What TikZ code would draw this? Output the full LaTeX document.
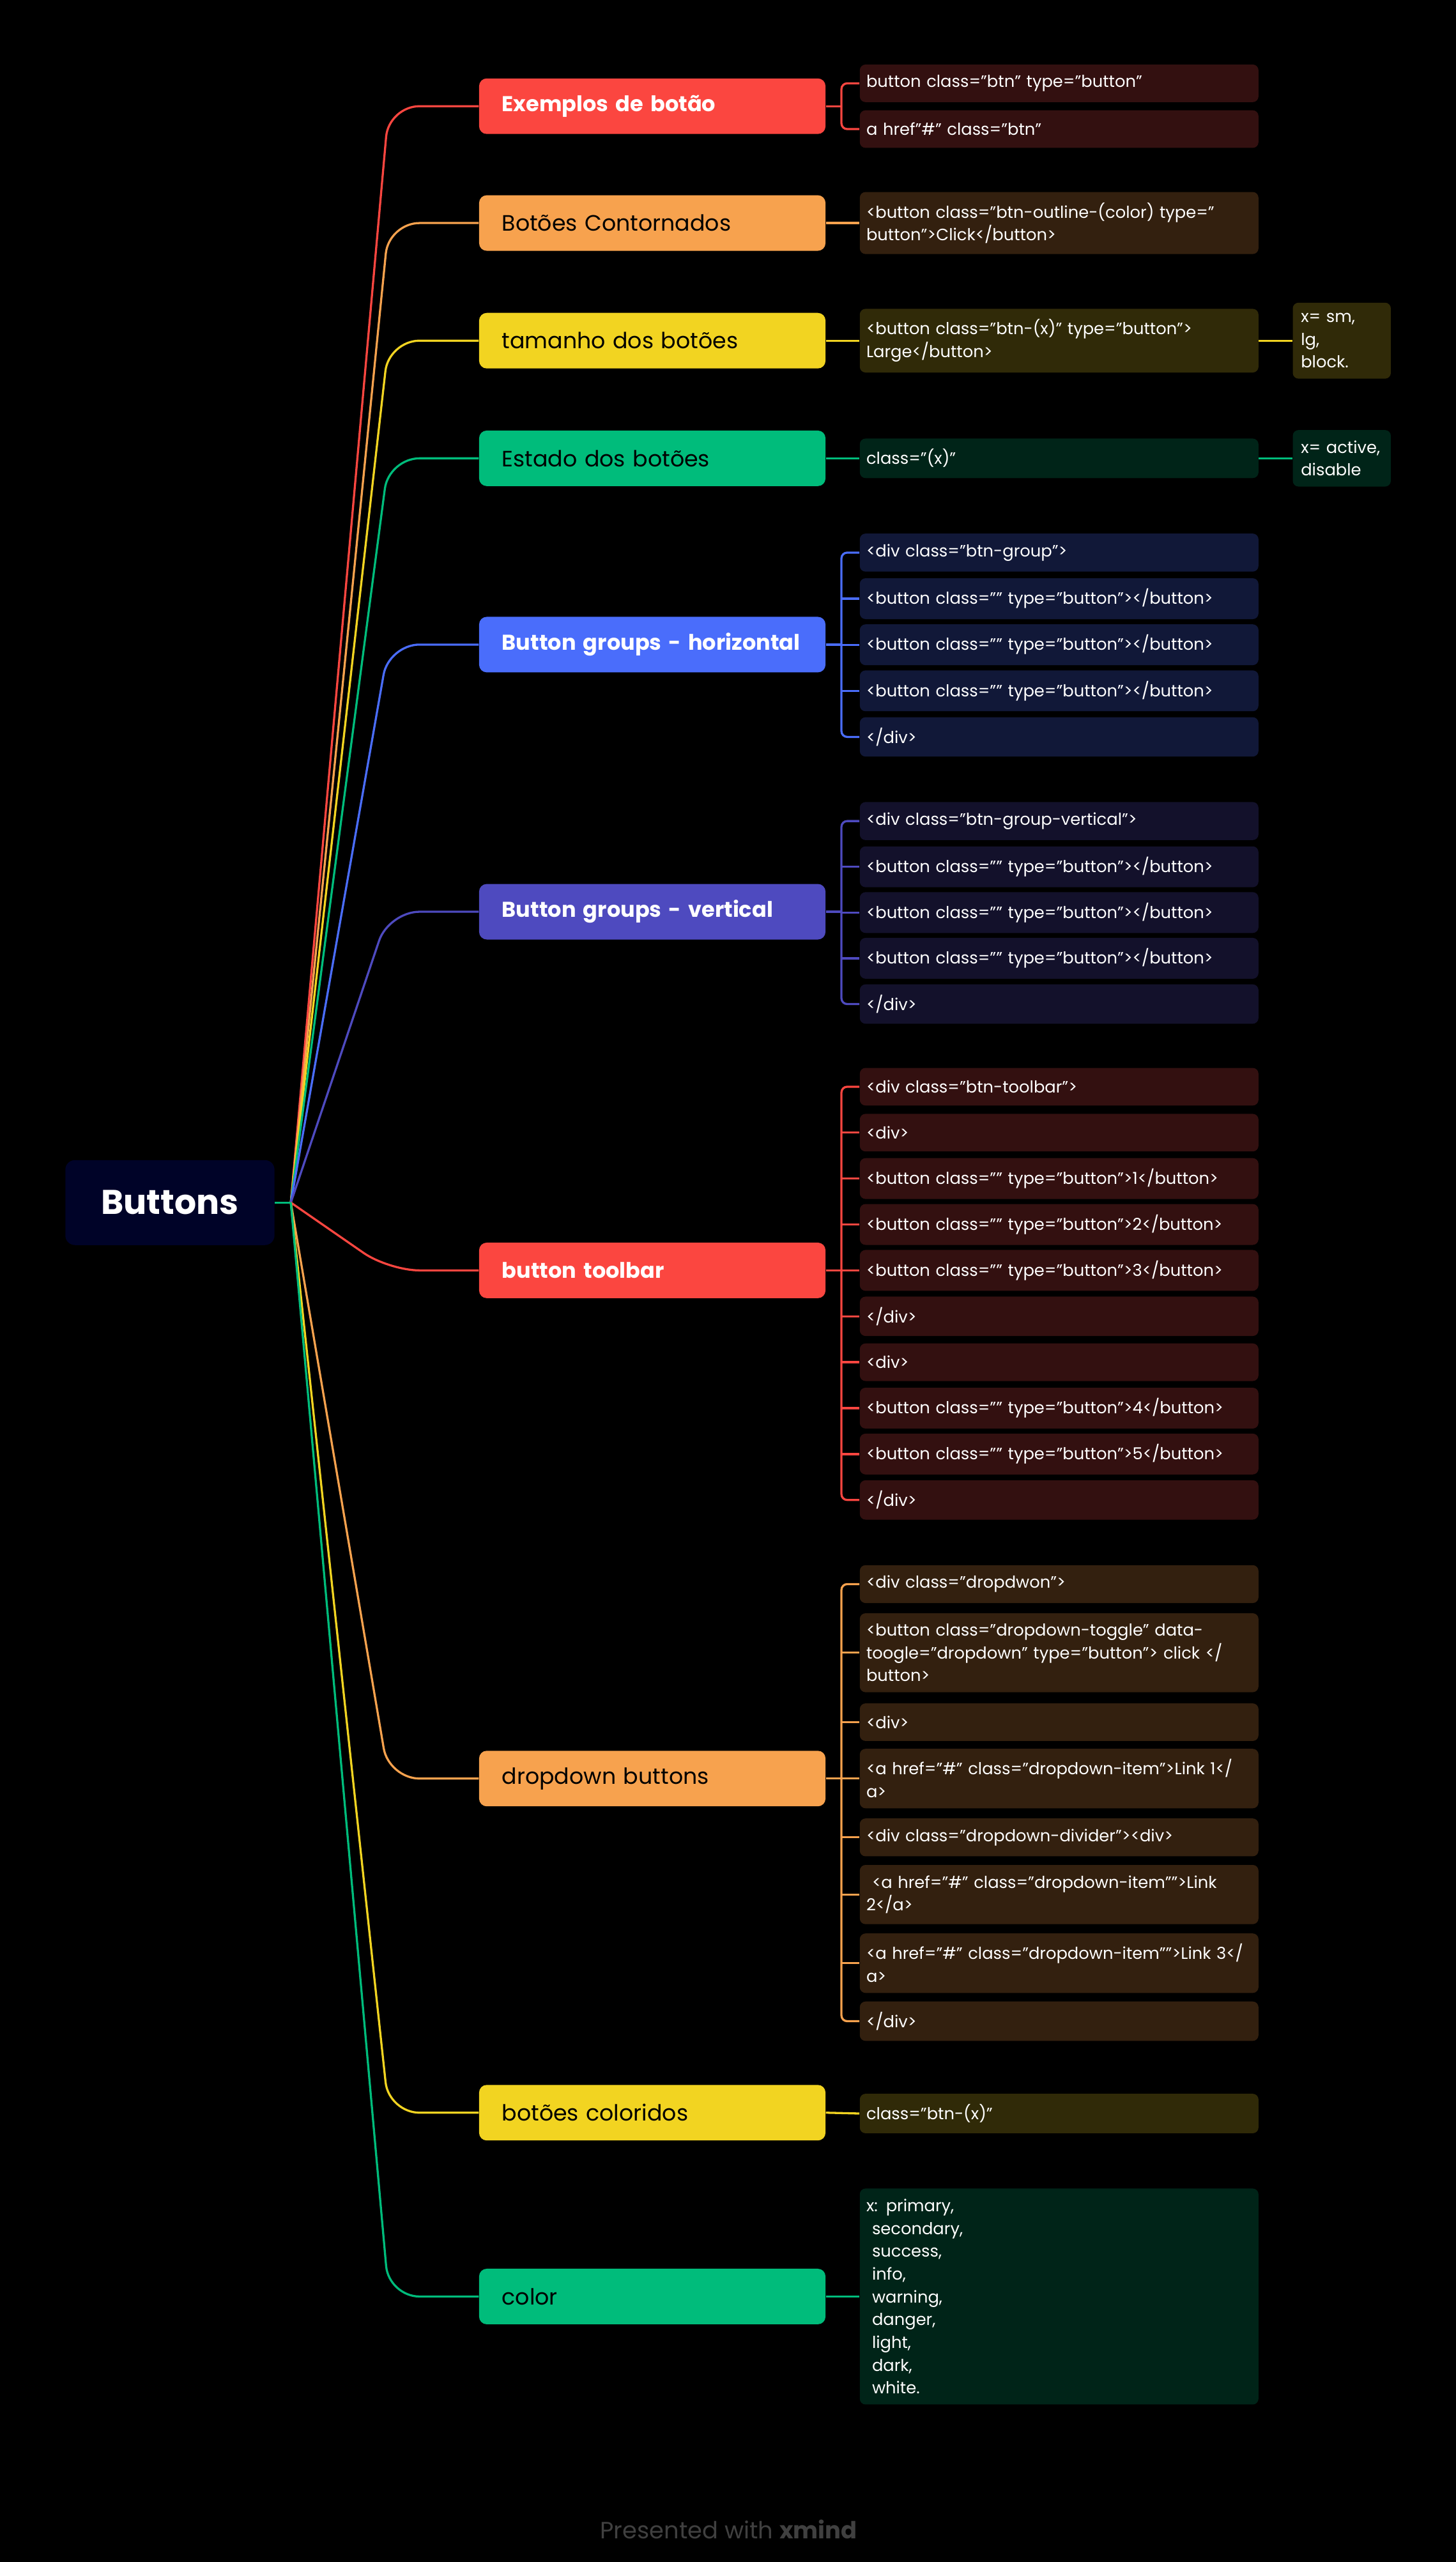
\documentclass[tikz,border=0pt]{standalone}
\usepackage{fontspec}
\setmainfont{Poppins}
\usetikzlibrary{positioning}

\definecolor{rootfill}{HTML}{000328}
\definecolor{bRed}{HTML}{FB4640}
\definecolor{bOrange}{HTML}{F7A24E}
\definecolor{bYellow}{HTML}{F2D421}
\definecolor{bGreen}{HTML}{00BC7B}
\definecolor{bBlue}{HTML}{4A6DFB}
\definecolor{bIndigo}{HTML}{4E4ABF}
\definecolor{dRed}{HTML}{331010}
\definecolor{dOrange}{HTML}{33200F}
\definecolor{dYellow}{HTML}{302A08}
\definecolor{dGreen}{HTML}{002418}
\definecolor{dBlue}{HTML}{111838}
\definecolor{dIndigo}{HTML}{13112B}
\definecolor{credit}{HTML}{404040}

\newcommand{\topicfont}{\fontsize{11.6}{14}\selectfont\hyphenpenalty=10000 }
\newcommand{\codefont}{\fontsize{8.6}{11.9}\selectfont}

\tikzset{
  topic/.style={fill=#1, rounded corners=4pt, anchor=west, minimum height=1.02cm,
    text width=5.52cm, inner xsep=0.42cm, align=left, font=\topicfont},
  lighttopic/.style={topic=#1, text=white, font=\topicfont\fontsize{11.2}{14}\selectfont\bfseries},
  code/.style={fill=#1, text=white, rounded corners=3pt, anchor=west, minimum height=0.69cm,
    text width=7.08cm, inner xsep=0.12cm, inner ysep=5.5pt, align=left, font=\codefont},
  note/.style={code=#1, text width=1.5cm, inner xsep=0.15cm},
  link/.style={draw=#1, line width=1.1pt},
}

\begin{document}
\begin{tikzpicture}[x=0.03cm, y=-0.03cm]

\fill (0,0) rectangle (891,1568);

\node[fill=rootfill, text=white, rounded corners=5pt, minimum width=3.84cm, minimum height=1.56cm,
  font=\fontsize{17.9}{20}\selectfont\bfseries] (root) at (104,736) {Buttons};
\coordinate (J) at (178,736);
\coordinate (bend) at (238,0);
\coordinate (trunk) at (515,0);

% main topics
\node[lighttopic=bRed] (ex) at (293,65) {Exemplos de botão};
\node[topic=bOrange] (co) at (293,136.5) {Botões Contornados};
\node[topic=bYellow] (ta) at (293,208.5) {tamanho dos botões};
\node[topic=bGreen] (es) at (293,280.5) {Estado dos botões};
\node[lighttopic=bBlue] (gh) at (293,394.5) {Button~groups~-~horizontal};
\node[lighttopic=bIndigo] (gv) at (293,558) {Button groups - vertical};
\node[lighttopic=bRed] (tb) at (293,777.5) {button toolbar};
\node[topic=bOrange] (dd) at (293,1088.5) {dropdown buttons};
\node[topic=bYellow] (bc) at (293,1293) {botões coloridos};
\node[topic=bGreen] (cl) at (293,1405.5) {color};

\foreach \m/\c in {ex/bRed, co/bOrange, ta/bYellow, es/bGreen, gh/bBlue, gv/bIndigo,
                   tb/bRed, dd/bOrange, bc/bYellow, cl/bGreen}
  \draw[link=\c, rounded corners=16pt] (J) -- (bend |- \m.west) -- (\m.west);
\draw[link=bGreen] (root.east) -- (J);

% Exemplos de botao
\node[code=dRed] (ex1) at (526,51) {button class="btn" type="button"};
\node[code=dRed] (ex2) at (526,79) {a href"\#" class="btn"};
\draw[link=bRed] (ex.east) -- (trunk |- ex.east);
\draw[link=bRed, rounded corners=3pt] (ex1.west) -- (trunk |- ex1.west) -- (trunk |- ex2.west) -- (ex2.west);

% Botoes Contornados
\node[code=dOrange] (co1) at (526,136.5) {<button class="btn-outline-(color) type="\\button">Click</button>};
\draw[link=bOrange] (co.east) -- (co1.west);

% tamanho
\node[code=dYellow] (ta1) at (526,208.5) {<button class="btn-(x)" type="button">\\Large</button>};
\node[note=dYellow] (ta2) at (791,208.5) {x=~sm,\\lg,\\block.};
\draw[link=bYellow] (ta.east) -- (ta1.west);
\draw[link=bYellow] (ta1.east) -- (ta2.west);

% estado
\node[code=dGreen] (es1) at (526,280.5) {class="(x)"};
\node[note=dGreen] (es2) at (791,280.5) {x=~active,\\disable};
\draw[link=bGreen] (es.east) -- (es1.west);
\draw[link=bGreen] (es1.east) -- (es2.west);

% button groups - horizontal
\foreach \t [count=\i] in {{<div class="btn-group">}, {<button class="" type="button"></button>},
    {<button class="" type="button"></button>}, {<button class="" type="button"></button>}, {</div>}}
  \node[code=dBlue] (gh\i) at (526, 310+28.2*\i) {\t};
\draw[link=bBlue] (gh.east) -- (trunk |- gh.east);
\draw[link=bBlue, rounded corners=3pt] (gh1.west) -- (trunk |- gh1.west) -- (trunk |- gh5.west) -- (gh5.west);
\foreach \i in {2,3,4}
  \draw[link=bBlue] (trunk |- gh\i.west) -- (gh\i.west);

% button groups - vertical
\foreach \t [count=\i] in {{<div class="btn-group-vertical">}, {<button class="" type="button"></button>},
    {<button class="" type="button"></button>}, {<button class="" type="button"></button>}, {</div>}}
  \node[code=dIndigo] (gv\i) at (526, 474.5+28*\i) {\t};
\draw[link=bIndigo] (gv.east) -- (trunk |- gv.east);
\draw[link=bIndigo, rounded corners=3pt] (gv1.west) -- (trunk |- gv1.west) -- (trunk |- gv5.west) -- (gv5.west);
\foreach \i in {2,3,4}
  \draw[link=bIndigo] (trunk |- gv\i.west) -- (gv\i.west);

% button toolbar
\foreach \t [count=\i] in {{<div class="btn-toolbar">}, {<div>},
    {<button class="" type="button">1</button>}, {<button class="" type="button">2</button>},
    {<button class="" type="button">3</button>}, {</div>}, {<div>},
    {<button class="" type="button">4</button>}, {<button class="" type="button">5</button>}, {</div>}}
  \node[code=dRed] (tb\i) at (526, 637+28.1*\i) {\t};
\draw[link=bRed] (tb.east) -- (trunk |- tb.east);
\draw[link=bRed, rounded corners=3pt] (tb1.west) -- (trunk |- tb1.west) -- (trunk |- tb10.west) -- (tb10.west);
\foreach \i in {2,...,9}
  \draw[link=bRed] (trunk |- tb\i.west) -- (tb\i.west);

% dropdown
\node[code=dOrange] (dd1) at (526,969.5) {<div class="dropdwon">};
\node[code=dOrange] (dd2) at (526,1011.5) {<button class="dropdown-toggle" data-\\toogle="dropdown" type="button">~click~</\\button>};
\node[code=dOrange] (dd3) at (526,1054) {<div>};
\node[code=dOrange] (dd4) at (526,1088.5) {<a href="\#" class="dropdown-item">Link~1</\\a>};
\node[code=dOrange] (dd5) at (526,1124.5) {<div class="dropdown-divider"><div>};
\node[code=dOrange] (dd6) at (526,1159.5) {\hspace*{3pt}<a href="\#" class="dropdown-item"">Link\\2</a>};
\node[code=dOrange] (dd7) at (526,1201.5) {<a href="\#" class="dropdown-item"">Link~3</\\a>};
\node[code=dOrange] (dd8) at (526,1237) {</div>};
\draw[link=bOrange] (dd.east) -- (trunk |- dd.east);
\draw[link=bOrange, rounded corners=3pt] (dd1.west) -- (trunk |- dd1.west) -- (trunk |- dd8.west) -- (dd8.west);
\foreach \i in {2,...,7}
  \draw[link=bOrange] (trunk |- dd\i.west) -- (dd\i.west);

% botoes coloridos
\node[code=dYellow] (bc1) at (526,1293.5) {class="btn-(x)"};
\draw[link=bYellow] (bc.east) -- (bc1.west);

% color
\node[code=dGreen] (cl1) at (526,1405.5) {x: primary,\\\hspace*{3pt}secondary,\\\hspace*{3pt}success,\\\hspace*{3pt}info,\\\hspace*{3pt}warning,\\\hspace*{3pt}danger,\\\hspace*{3pt}light,\\\hspace*{3pt}dark,\\\hspace*{3pt}white.};
\draw[link=bGreen] (cl.east) -- (cl1.west);

\node[text=credit, font=\fontsize{12.3}{14}\selectfont] (note) at (446,1548) {Presented with \textbf{xmind}};

\end{tikzpicture}
\end{document}
